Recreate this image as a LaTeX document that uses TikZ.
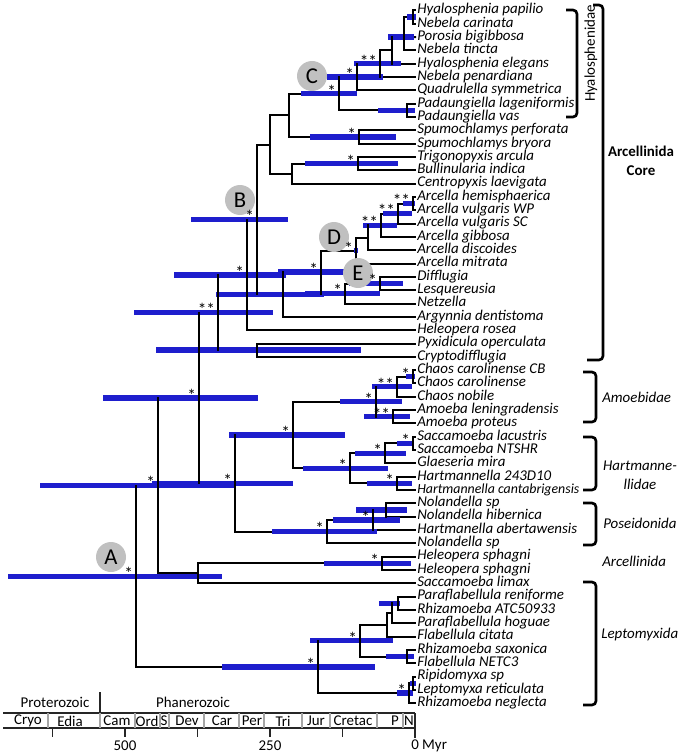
\documentclass[tikz,border=0pt]{standalone}
\usepackage{fontspec}
\setmainfont{Carlito}
\usetikzlibrary{calc}
\definecolor{barblue}{RGB}{30,30,205}
\definecolor{circgray}{RGB}{192,192,192}
\definecolor{pergray}{RGB}{165,165,165}
\begin{document}
\begin{tikzpicture}[x=0.75pt,y=-0.75pt,
  br/.style={line width=1.5pt,line cap=rect},
  bar/.style={line width=4pt,draw=barblue},
  tip/.style={anchor=west,xshift=1.5pt,inner sep=0pt,text height=0.6em,text depth=0.1em,font=\fontsize{11.2}{13}\selectfont\itshape},
  st/.style={anchor=base east,inner sep=0pt,font=\fontsize{13}{13}\selectfont},
  lab/.style={circle,fill=circgray,minimum size=22.5pt,inner sep=0pt,font=\fontsize{17}{19}\selectfont},
  brk/.style={line width=2pt,rounded corners=3pt},
  grp/.style={anchor=west,inner sep=0pt,font=\fontsize{11.2}{13}\selectfont\itshape},
  ts/.style={inner sep=0pt,font=\fontsize{11.2}{13}\selectfont},
  tl/.style={line width=0.8pt,black!85},
  pl/.style={line width=0.8pt,pergray}]
\useasboundingbox (0,0) rectangle (682,756);

% tips
\foreach \i in {1,...,53} \coordinate (t\i) at (415,{10.5+(\i-1)*13.32});

% internal nodes
\coordinate (n1) at (413,17.16);
\coordinate (n2) at (404,37.14);
\coordinate (n3) at (392,50.46);
\coordinate (n4) at (380,63.78);
\coordinate (nC) at (357,77.10);
\coordinate (nP) at (407,110.40);
\coordinate (nH) at (339,93.75);
\coordinate (nS) at (359,137.04);
\coordinate (n289) at (289,115.40);
\coordinate (nTB) at (358,163.68);
\coordinate (n292) at (292,173.67);
\coordinate (n270) at (270,144.54);
\coordinate (a1) at (413,203.64);
\coordinate (a2) at (398,213.63);
\coordinate (a3) at (381,225.29);
\coordinate (a4) at (368,237.77);
\coordinate (nD) at (356,250.68);
\coordinate (dl) at (380,283.56);
\coordinate (n345) at (345,293.55);
\coordinate (n321) at (321,272.12);
\coordinate (n283) at (283,294.49);
\coordinate (nB) at (257,219.52);
\coordinate (n247) at (247,274.85);
\coordinate (nPC) at (257,350.16);
\coordinate (n218) at (218,312.51);
\coordinate (c1) at (413,376.80);
\coordinate (c2) at (397,386.79);
\coordinate (am) at (393,416.76);
\coordinate (nAm) at (376,401.78);
\coordinate (s1) at (413,443.40);
\coordinate (s2) at (385,453.39);
\coordinate (h1) at (397,483.36);
\coordinate (nHa) at (350,468.38);
\coordinate (n293) at (293,435.08);
\coordinate (p1) at (386,510.00);
\coordinate (p2) at (373,519.99);
\coordinate (nPo) at (327,531.65);
\coordinate (n235) at (235,483.37);
\coordinate (n199) at (199,397.94);
\coordinate (hs) at (382,563.28);
\coordinate (n198) at (198,573.27);
\coordinate (n158) at (158,485.61);
\coordinate (l1) at (398,603.24);
\coordinate (l2) at (392,613.23);
\coordinate (l3) at (387,624.89);
\coordinate (l4) at (407,656.52);
\coordinate (l5) at (360,640.71);
\coordinate (l6) at (413,683.16);
\coordinate (l7) at (409,693.15);
\coordinate (nL) at (318,666.93);
\coordinate (nA) at (136,576.27);

\def\cladelist{n1/t1/t2, n2/n1/t4, n3/n2/t5, n4/n3/t6, nC/n4/t7, nP/t8/t9, nH/nC/nP, nS/t10/t11, n289/nH/nS, nTB/t12/t13, n292/nTB/t14, n270/n289/n292, a1/t15/t16, a2/a1/t17, a3/a2/t18, a4/a3/t19, nD/a4/t20, dl/t21/t22, n345/dl/t23, n321/nD/n345, n283/n321/t24, nB/n270/n283, n247/nB/t25, nPC/t26/t27, n218/n247/nPC, c1/t28/t29, c2/c1/t30, am/t31/t32, nAm/c2/am, s1/t33/t34, s2/s1/t35, h1/t36/t37, nHa/s2/h1, n293/nAm/nHa, p1/t38/t39, p2/p1/t40, nPo/p2/t41, n235/n293/nPo, n199/n218/n235, hs/t42/t43, n198/hs/t44, n158/n199/n198, l1/t45/t46, l2/l1/t47, l3/l2/t48, l4/t49/t50, l5/l3/l4, l6/t51/t52, l7/l6/t53, nL/l5/l7, nA/n158/nL}

% branches
\foreach \p/\a/\b in \cladelist {
  \draw[br] (\p) |- (\a);
  \draw[br] (\p) |- (\b);
}
\draw[br] (n2) -- (t3);

% age bars
\foreach \n/\a/\b in {n1/407/416, n2/388/414, n4/354/401, nC/327/383, nP/378/415, nH/301/357, nS/310/396, nTB/305/398, a1/403/415, a2/383/412, a3/363/397, nD/354/358, dl/349/403, n345/305/380, n321/278/347, n283/216/324, nB/191/288, n247/174/286, nPC/156/361, n218/134/273, c1/406/415, c2/372/412, am/364/410, nAm/340/402, s1/397/414, s2/355/406, h1/367/412, nHa/303/388, n293/229/345, p1/356/407, p2/333/400, nPo/272/377, n235/152/293, n199/103/258, hs/324/411, n158/40/234, l1/379/400, l4/386/414, l5/310/393, l6/410/416, l7/397/413, nL/222/375, nA/8/222}
  \draw[bar] (\a,0 |- \n) -- (\b,0 |- \n);

% verticals on top
\foreach \p/\a/\b in \cladelist
  \draw[br] (\p |- \a) -- (\p |- \b);

% tip labels
\foreach \i/\txt in {1/Hyalosphenia papilio, 2/Nebela carinata, 3/Porosia bigibbosa, 4/Nebela tincta, 5/Hyalosphenia elegans, 6/Nebela penardiana, 7/Quadrulella symmetrica, 8/Padaungiella lageniformis, 9/Padaungiella vas, 10/Spumochlamys perforata, 11/Spumochlamys bryora, 12/Trigonopyxis arcula, 13/Bullinularia indica, 14/Centropyxis laevigata, 15/Arcella hemisphaerica, 16/Arcella vulgaris WP, 17/Arcella vulgaris SC, 18/Arcella gibbosa, 19/Arcella discoides, 20/Arcella mitrata, 21/Difflugia, 22/Lesquereusia, 23/Netzella, 24/Argynnia dentistoma, 25/Heleopera rosea, 26/Pyxidicula operculata, 27/Cryptodifflugia, 28/Chaos carolinense CB, 29/Chaos carolinense, 30/Chaos nobile, 31/Amoeba leningradensis, 32/Amoeba proteus, 33/Saccamoeba lacustris, 34/Saccamoeba NTSHR, 35/Glaeseria mira, 36/Hartmannella 243D10, 38/Nolandella sp, 39/Nolandella hibernica, 40/Hartmanella abertawensis, 41/Nolandella sp, 42/Heleopera sphagni, 43/Heleopera sphagni, 44/Saccamoeba limax, 45/Paraflabellula reniforme, 46/Rhizamoeba ATC50933, 47/Paraflabellula hoguae, 48/Flabellula citata, 49/Rhizamoeba saxonica, 50/Flabellula NETC3, 51/Ripidomyxa sp, 52/Leptomyxa reticulata, 53/Rhizamoeba neglecta}
  \node[tip] (L\i) at (t\i) {\txt};
\node[tip,font=\fontsize{10.4}{12}\selectfont\itshape] (L37) at (t37) {Hartmannella cantabrigensis};

% circled labels
\node[lab] (cA) at (111,557) {A};
\node[lab] (cB) at (240,200) {B};
\node[lab] (cC) at (312,76) {C};
\node[lab] (cD) at (334,237) {D};
\node[lab] (cE) at (358,273) {E};

% support stars
\foreach \n/\s in {n4/**, nC/*, nH/*, nS/*, nTB/*, a1/**, a2/**, a3/**, nD/*, dl/*, n345/*, n321/*, nB/*, n247/*, n218/**, c1/*, c2/**, am/**, nAm/*, s1/*, s2/*, h1/*, nHa/*, n293/*, p2/*, nPo/*, n235/*, n199/*, hs/*, n158/*, l5/*, l7/*, nL/*, nA/*}
  \node[st] (s-\n) at ([xshift=-2pt,yshift=-2.5pt]\n) {\s};

% group brackets
\draw[brk] (566,10) -- (577,10) -- (577,117) -- (566,117);
\node[inner sep=0pt,rotate=90,font=\fontsize{11.2}{13}\selectfont] (gHy) at (591,53.5) {Hyalosphenidae};
\draw[brk] (593,5) -- (603,5) -- (603,360) -- (587,360);
\node[inner sep=0pt,align=center,font=\fontsize{11.2}{14.2}\selectfont\bfseries] (gAC) at (641,161) {Arcellinida\\Core};
\draw[brk] (583,372) -- (596,372) -- (596,422) -- (583,422);
\node[grp] (gAm) at (602,397) {Amoebidae};
\draw[brk] (583,437) -- (596,437) -- (596,490) -- (583,490);
\node[inner sep=0pt,align=center,font=\fontsize{11.2}{14.2}\selectfont\itshape] (gHa) at (640,475) {Hartmanne-\\llidae};
\draw[brk] (583,503) -- (596,503) -- (596,545) -- (583,545);
\node[grp] (gPo) at (603,523) {Poseidonida};
\node[grp] (gAr) at (602,561) {Arcellinida};
\draw[brk] (583,582) -- (596,582) -- (596,705) -- (583,705);
\node[grp] (gLe) at (601,635) {Leptomyxida};

% time scale
\draw[tl] (3,713) -- (415,713);
\draw[tl] (3,728) -- (415,728);
\draw[tl] (100,692) -- (100,713);
\foreach \x in {48,100,135,160,169,204,239,264,302,330,377,403}
  \draw[pl] (\x,713) -- (\x,728);
\draw[tl] (415,713) -- (415,738);
\foreach \x in {52.5,125,197.5,270,342.5}
  \draw[tl] (\x,729) -- (\x,737);
\node[ts] (eP) at (55,702) {Proterozoic};
\node[ts] (eF) at (193,702) {Phanerozoic};
\foreach \x/\t in {28/Cryo, 70/Edia, 117/Cam, 147/Ord, 164/S, 187/Dev, 222/Car, 252/Per, 283/Tri, 316/Jur, 353/Cretac, 395/P, 409/N}
  \node[ts] (per-\t) at (\x,721) {\t};
\node[ts] (m500) at (125,746) {500};
\node[ts] (m250) at (270,746) {250};
\node[ts,anchor=west] (m0) at (411,746) {0 Myr};
\end{tikzpicture}
\end{document}
